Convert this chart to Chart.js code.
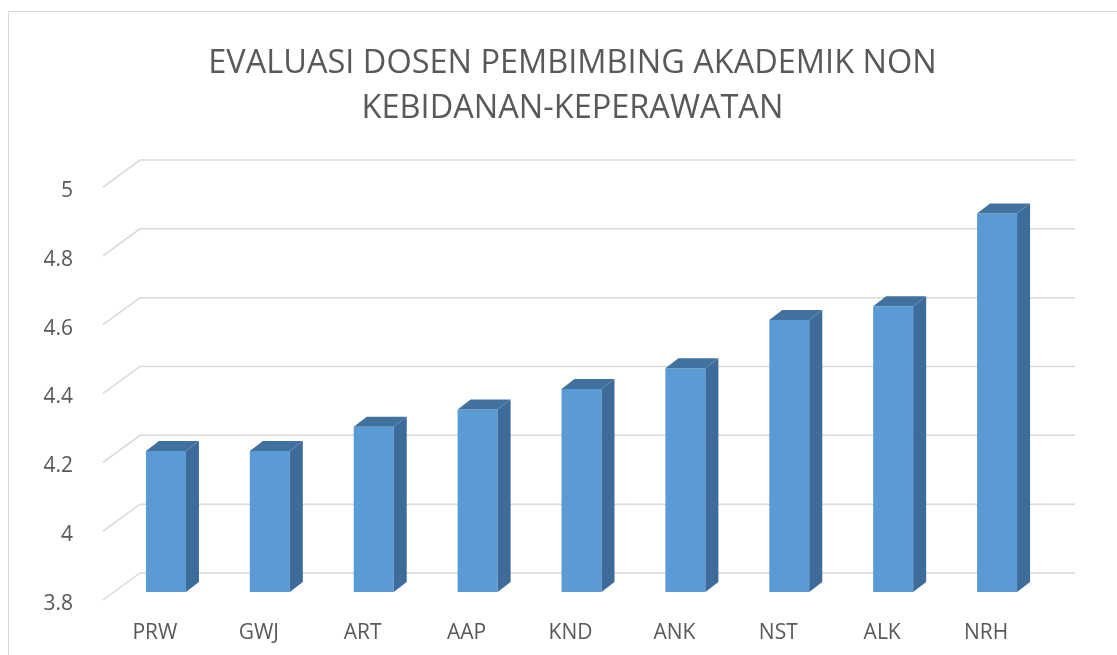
<!DOCTYPE html>
<html>
<head>
<meta charset="utf-8">
<script src="https://cdn.jsdelivr.net/npm/chart.js@4"></script>
<style>
  html, body { margin: 0; padding: 0; background: #fff; overflow: hidden; }
  #frame { position: absolute; left: 8px; top: 11px; width: 1300px; height: 900px; border: 1.5px solid #d9d9d9; }
  #wrap { position: absolute; left: 0; top: 0; width: 1117px; height: 655px; }
</style>
</head>
<body>
<div id="frame"></div>
<div id="wrap"><canvas id="barChart" width="1117" height="655"></canvas></div>
<script>
var categories = ['PRW', 'GWJ', 'ART', 'AAP', 'KND', 'ANK', 'NST', 'ALK', 'NRH'];
var scores = [4.21, 4.21, 4.28, 4.33, 4.39, 4.45, 4.59, 4.63, 4.90];
var yTicks = [3.8, 4, 4.2, 4.4, 4.6, 4.8, 5];
var titleLines = ['EVALUASI DOSEN PEMBIMBING AKADEMIK NON', 'KEBIDANAN-KEPERAWATAN'];

// 3D look: back wall offset, bar position inside the depth, bar depth
var wall = { dx: 37, dy: -27 };
var barShift = { dx: 11, dy: -8 };
var barDepth = { dx: 13, dy: -10 };

var fakeThreeD = {
    id: 'fakeThreeD',
    beforeDatasetsDraw: function (chart) {
        var ctx = chart.ctx;
        var area = chart.chartArea;
        var y = chart.scales.y;
        ctx.save();
        ctx.strokeStyle = '#d9d9d9';
        ctx.lineWidth = 1.5;
        yTicks.forEach(function (t) {
            var py = y.getPixelForValue(t);
            ctx.beginPath();
            ctx.moveTo(area.left, py);
            ctx.lineTo(area.left + wall.dx, py + wall.dy);
            ctx.lineTo(area.right + wall.dx, py + wall.dy);
            ctx.stroke();
        });
        ctx.restore();
        // bars sit a bit behind the front plane
        ctx.save();
        ctx.translate(barShift.dx, barShift.dy);
    },
    afterDatasetsDraw: function (chart) {
        var ctx = chart.ctx;
        chart.getDatasetMeta(0).data.forEach(function (bar) {
            var p = bar.getProps(['x', 'y', 'base', 'width'], true);
            var l = p.x - p.width / 2, r = p.x + p.width / 2;
            // side
            ctx.fillStyle = '#3d6c9b';
            ctx.beginPath();
            ctx.moveTo(r, p.y);
            ctx.lineTo(r + barDepth.dx, p.y + barDepth.dy);
            ctx.lineTo(r + barDepth.dx, p.base + barDepth.dy);
            ctx.lineTo(r, p.base);
            ctx.closePath();
            ctx.fill();
            // top
            ctx.fillStyle = '#41729f';
            ctx.beginPath();
            ctx.moveTo(l, p.y);
            ctx.lineTo(l + barDepth.dx, p.y + barDepth.dy);
            ctx.lineTo(r + barDepth.dx, p.y + barDepth.dy);
            ctx.lineTo(r, p.y);
            ctx.closePath();
            ctx.fill();
        });
        ctx.restore();
    }
};

var ctx = document.getElementById('barChart').getContext('2d');
var myChart = new Chart(ctx, {
    type: 'bar',
    data: {
        labels: categories,
        datasets: [{
            data: scores,
            base: yTicks[0],
            backgroundColor: '#5b9bd5',
            borderWidth: 0,
            barPercentage: 0.385,
            categoryPercentage: 1
        }]
    },
    options: {
        responsive: false,
        animation: false,
        layout: { padding: { left: 28, right: 0, top: 0, bottom: 0 } },
        plugins: {
            legend: { display: false },
            tooltip: { enabled: false },
            title: {
                display: true,
                text: titleLines,
                color: '#595959',
                font: { family: 'Open Sans', size: 32.5, weight: 'normal', lineHeight: 1.385 },
                padding: { top: 41, bottom: 56 }
            }
        },
        scales: {
            x: {
                grid: { display: false },
                border: { display: false },
                ticks: { color: '#595959', font: { family: 'Open Sans', size: 21 }, padding: 12 },
                afterFit: function (s) { s.height = 55; }
            },
            y: {
                min: 3.8,
                max: 5,
                grid: { display: false },
                border: { display: false },
                ticks: {
                    stepSize: 0.2,
                    color: '#595959',
                    font: { family: 'Open Sans', size: 21 },
                    padding: 22,
                    labelOffset: 4,
                    callback: function (v) { return Math.round(v * 10) / 10; }
                },
                afterFit: function (s) { s.width = 75; }
            },
            yRight: {
                position: 'right',
                display: true,
                grid: { display: false },
                border: { display: false },
                ticks: { display: false },
                afterFit: function (s) { s.width = 79; }
            }
        }
    },
    plugins: [fakeThreeD]
});
</script>
</body>
</html>
